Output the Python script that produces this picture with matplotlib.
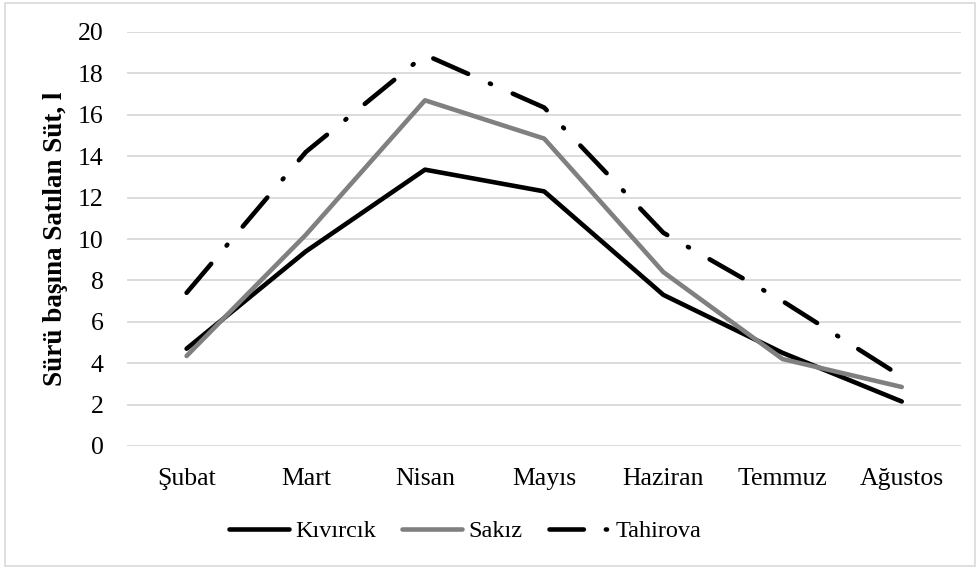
import matplotlib
matplotlib.use('Agg')
from matplotlib import pyplot as plt
from matplotlib.patches import Rectangle

plt.rcParams['font.family'] = ['Liberation Serif', 'DejaVu Serif']

# data
months = ['Şubat', 'Mart', 'Nisan', 'Mayıs', 'Haziran', 'Temmuz', 'Ağustos']
kivircik = [4.7, 9.4, 13.35, 12.3, 7.3, 4.5, 2.15]
sakiz = [4.35, 10.2, 16.7, 14.85, 8.4, 4.2, 2.85]
tahirova = [7.4, 14.2, 18.9, 16.35, 10.3, 7.0, 3.35]

fig = plt.figure(figsize=(9.77, 5.69), dpi=100)
ax = fig.add_axes([0.130, 1 - 446 / 569, 0.854, 414 / 569])

lw = 3.3
x = range(len(months))
ax.plot(x, kivircik, color='black', linewidth=lw, solid_capstyle='round',
        solid_joinstyle='round', label='Kıvırcık')
ax.plot(x, sakiz, color='#808080', linewidth=lw, solid_capstyle='round',
        solid_joinstyle='round', label='Sakız')
ax.plot(x, tahirova, color='black', linewidth=lw, dashes=(8.3, 5.2, 0.25, 5.2),
        dash_capstyle='round', label='Tahirova')

ax.set_xlim(-0.5, len(months) - 0.5)
ax.set_ylim(0, 20)
ax.set_yticks(range(0, 21, 2))
ax.set_xticks(list(x))
ax.set_xticklabels(months)
ax.grid(axis='y', color='#d9d9d9', linewidth=1.3)
ax.set_axisbelow(True)
for s in ax.spines.values():
    s.set_visible(False)
ax.tick_params(axis='both', length=0, labelsize=18.5, colors='black')
ax.tick_params(axis='y', pad=17)
ax.tick_params(axis='x', pad=16)

ax.set_ylabel('Sürü başına Satılan Süt, l', fontsize=19.5, fontweight='bold')
ax.yaxis.set_label_coords(-0.071, 0.5)

leg = fig.legend(loc='center', bbox_to_anchor=(465 / 977, 1 - 531 / 569), ncol=3, frameon=False,
                 fontsize=17.5, handlelength=2.47, handletextpad=0.25, columnspacing=1.1)
# shorter pattern on the legend key so the dot shows, as in the original
leg.get_lines()[2].set_dashes((7.5, 4.8, 0.25, 4.8))

fig.patches.append(Rectangle((5 / 977, 3 / 569), 970 / 977, 563 / 569, transform=fig.transFigure,
                             fill=False, edgecolor='#d9d9d9', linewidth=1.2))

plt.savefig('out.png', dpi=100)
